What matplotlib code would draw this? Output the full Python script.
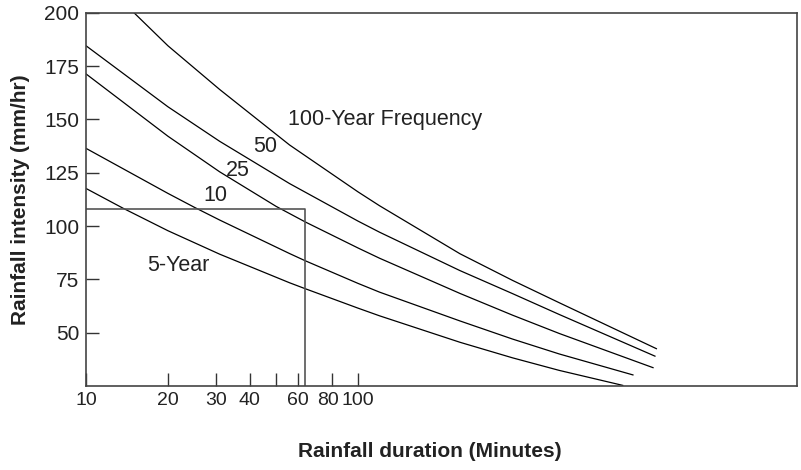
import matplotlib
matplotlib.use('Agg')
import matplotlib.pyplot as plt
from matplotlib.transforms import ScaledTranslation

plt.rcParams['font.family'] = ['Liberation Sans', 'DejaVu Sans']

# durations (minutes) and intensities (mm/hr)
t100 = [15, 20, 31, 56, 100, 120, 237, 370, 550, 1250]
i100 = [200, 184.5, 164, 138, 116, 109.5, 87, 74.5, 64, 42.5]

t50 = [10, 20, 31, 56, 100, 120, 237, 370, 550, 1235]
i50 = [184.5, 155.9, 139.7, 119.9, 102.3, 97.1, 79.1, 68.3, 58.5, 39]

t25 = [10, 20, 31, 50, 64, 100, 120, 237, 370, 550, 1215]
i25 = [171.3, 142.1, 125.4, 109.2, 101.9, 89.7, 84.9, 68.4, 58.2, 49.6, 33.6]

t10 = [10, 20, 25, 31, 56, 64, 100, 120, 237, 370, 550, 1025]
i10 = [136.4, 115.3, 108.8, 102.8, 87.1, 83.7, 73.1, 69.0, 55.5, 47, 40, 30.2]

t5 = [10, 13.7, 20, 31, 56, 64, 100, 120, 237, 370, 550, 940]
i5 = [117.6, 108.3, 97.8, 86.8, 73.4, 70.6, 61.5, 57.9, 45.5, 38.2, 32.3, 25.3]

# example reading: 64 min storm -> 108 mm/hr
design_t = 64
design_i = 108

xticks = [10, 20, 30, 40, 50, 60, 80, 100]
xticklabels = ['10', '20', '30', '40', '', '60', '80', '100']
yticks = [50, 75, 100, 125, 150, 175, 200]

fig = plt.figure(figsize=(8.01, 4.70), dpi=100)
ax = fig.add_axes([0.1074, 0.1787, 0.8876, 0.7943])

for t, i in [(t100, i100), (t50, i50), (t25, i25), (t10, i10), (t5, i5)]:
    ax.plot(t, i, color='black', lw=0.9)

ax.plot([10, design_t, design_t], [design_i, design_i, 25], color='#555555', lw=1.2)

ax.set_xscale('log')
ax.set_xlim(10, 4110)
ax.set_ylim(25, 200)
ax.set_xticks(xticks)
ax.set_xticklabels(xticklabels)
ax.xaxis.set_minor_locator(matplotlib.ticker.NullLocator())
ax.set_yticks(yticks)

ax.tick_params(direction='in', length=9.5, width=1.0, color='#333333', labelcolor='#222222')
ax.tick_params(axis='y', pad=5, labelsize=15)
ax.tick_params(axis='x', pad=4, labelsize=14)
for s in ax.spines.values():
    s.set_color('#444444')
    s.set_linewidth(1.2)

# squeeze "80" a little to the left so it does not run into "100"
lab80 = ax.get_xticklabels()[6]
lab80.set_transform(lab80.get_transform() + ScaledTranslation(-3 / 72, 0, fig.dpi_scale_trans))

txt = dict(fontsize=15.5, color='#222222')
ax.text(55.3, 149.7, '100-Year Frequency', ha='left', va='center', **txt)
ax.text(45.5, 137.5, '50', ha='center', va='center', **txt)
ax.text(36.2, 125.8, '25', ha='center', va='center', **txt)
ax.text(29.8, 114.5, '10', ha='center', va='center', **txt)
ax.text(21.8, 81.7, '5-Year', ha='center', va='center', **txt)

ax.set_ylabel('Rainfall intensity (mm/hr)', fontsize=15, fontweight='bold', color='#222222')
ax.yaxis.set_label_coords(-0.079, 0.5)
ax.set_xlabel('Rainfall duration (Minutes)', fontsize=15, fontweight='bold', color='#222222')
ax.xaxis.set_label_coords(0.484, -0.15)

fig.savefig('out.png', dpi=100)
